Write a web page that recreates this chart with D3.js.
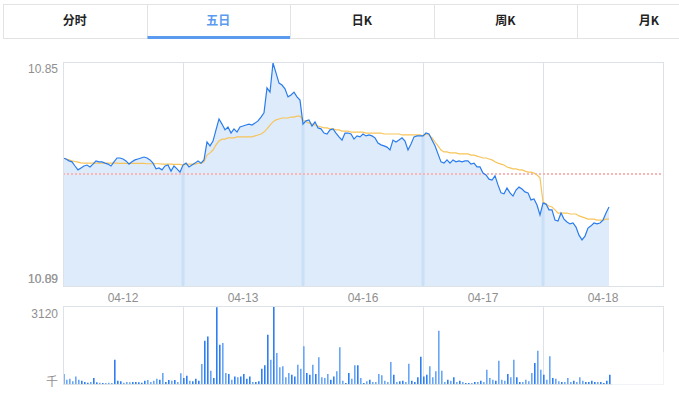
<!DOCTYPE html>
<html>
<head>
<meta charset="utf-8">
<script src="https://cdn.jsdelivr.net/npm/d3@7/dist/d3.min.js"></script>
<style>
  body { margin: 0; background: #fff; }
  svg { display: block; font-family: "Liberation Sans", Arial, sans-serif; }
</style>
</head>
<body>
<div id="root"></div>
<script>
// tabs and day labels
const tabLabels = ['分时', '五日', '日K', '周K', '月K'];
const activeTab = 1;
const days = ['04-12', '04-13', '04-16', '04-17', '04-18'];
const priceTopLabel = '10.85';
const priceBottomLabels = ['10.09', '10.89'];
const volTopLabel = '3120';
const volUnitLabel = '千';
const preClose = 10.50;
const priceRange = [10.15, 10.85];
const volMax = 3120;
const pointsPerDay = 40;

// price per sample (every 6 minutes)
const price0412 = [10.550,10.547,10.541,10.538,10.525,10.513,10.519,10.525,10.528,10.522,
  10.531,10.541,10.538,10.538,10.534,10.531,10.525,10.538,10.550,10.550,
  10.547,10.541,10.531,10.538,10.544,10.547,10.550,10.553,10.550,10.544,
  10.534,10.516,10.519,10.513,10.525,10.528,10.509,10.525,10.516,10.506];
const price0413 = [10.528,10.534,10.522,10.528,10.534,10.541,10.534,10.544,10.600,10.588,
  10.603,10.638,10.672,10.656,10.638,10.647,10.628,10.641,10.631,10.647,
  10.650,10.653,10.656,10.653,10.659,10.666,10.678,10.691,10.769,10.756,
  10.847,10.816,10.784,10.778,10.766,10.741,10.747,10.756,10.741,10.731];
const price0416 = [10.656,10.666,10.669,10.650,10.663,10.644,10.641,10.628,10.625,10.638,
  10.641,10.628,10.616,10.606,10.628,10.628,10.625,10.609,10.619,10.616,
  10.625,10.619,10.622,10.619,10.613,10.597,10.591,10.588,10.584,10.575,
  10.606,10.600,10.606,10.613,10.603,10.575,10.594,10.616,10.619,10.619];
const price0417 = [10.619,10.628,10.625,10.606,10.588,10.563,10.538,10.534,10.544,10.534,
  10.544,10.538,10.541,10.538,10.541,10.541,10.531,10.534,10.522,10.522,
  10.503,10.497,10.484,10.481,10.494,10.466,10.441,10.438,10.456,10.441,
  10.431,10.450,10.459,10.453,10.444,10.441,10.419,10.422,10.403,10.372];
const price0418 = [10.409,10.406,10.388,10.388,10.356,10.353,10.378,10.359,10.350,10.344,
  10.347,10.334,10.309,10.294,10.306,10.331,10.338,10.347,10.344,10.347,
  10.356,10.378,10.397];

// average price
const avg0412 = [10.550,10.547,10.544,10.541,10.539,10.537,10.535,10.534,10.534,10.534,
  10.534,10.534,10.534,10.534,10.534,10.534,10.534,10.534,10.534,10.533,
  10.533,10.533,10.533,10.533,10.533,10.533,10.533,10.533,10.532,10.532,
  10.532,10.532,10.532,10.531,10.531,10.531,10.531,10.530,10.530,10.530];
const avg0413 = [10.528,10.531,10.531,10.531,10.531,10.534,10.534,10.538,10.559,10.566,
  10.575,10.591,10.603,10.609,10.609,10.613,10.613,10.613,10.616,10.616,
  10.616,10.616,10.616,10.616,10.619,10.622,10.625,10.631,10.641,10.653,
  10.663,10.669,10.672,10.675,10.675,10.675,10.678,10.678,10.681,10.681];
const avg0416 = [10.669,10.663,10.659,10.656,10.653,10.650,10.647,10.644,10.644,10.641,
  10.641,10.638,10.638,10.634,10.634,10.634,10.631,10.631,10.631,10.631,
  10.631,10.628,10.628,10.628,10.628,10.628,10.628,10.625,10.625,10.625,
  10.625,10.625,10.625,10.622,10.622,10.622,10.622,10.622,10.622,10.622];
const avg0417 = [10.619,10.625,10.622,10.613,10.600,10.588,10.575,10.569,10.569,10.566,
  10.566,10.566,10.563,10.563,10.563,10.563,10.559,10.559,10.556,10.553,
  10.550,10.550,10.547,10.544,10.538,10.534,10.531,10.528,10.522,10.519,
  10.516,10.516,10.513,10.513,10.509,10.506,10.506,10.503,10.497,10.488];
const avg0418 = [10.413,10.406,10.400,10.397,10.388,10.378,10.378,10.378,10.378,10.375,
  10.375,10.375,10.369,10.366,10.363,10.359,10.359,10.359,10.356,10.356,
  10.356,10.359,10.359];

// volume (thousand shares)
const vol0412 = [400,170,210,110,300,170,130,80,50,80,
  240,70,50,40,40,50,40,970,130,110,
  50,80,70,80,80,70,50,130,160,80,
  130,210,170,440,80,160,130,160,80,430];
const vol0413 = [240,330,130,110,210,130,800,1730,1900,530,
  240,3070,1570,1640,440,400,170,300,270,300,
  400,210,300,80,80,110,610,750,1970,970,
  3120,1240,670,710,270,440,370,300,770,610];
const vol0416 = [1510,440,370,770,400,1070,270,240,400,170,
  300,510,1470,130,40,440,210,750,750,240,
  40,110,170,80,80,400,350,130,80,880,
  370,80,110,130,80,810,130,80,270,1090];
const vol0417 = [300,370,710,270,510,2130,530,80,170,130,
  270,80,130,80,40,40,40,80,80,130,
  80,570,240,170,130,930,170,130,400,270,
  970,270,80,80,170,110,440,840,1330,570];
const vol0418 = [370,170,1110,240,210,110,80,80,240,80,
  130,80,270,130,80,80,130,80,80,80,
  40,130,370];

const priceDays = [price0412, price0413, price0416, price0417, price0418];
const avgDays = [avg0412, avg0413, avg0416, avg0417, avg0418];
const volDays = [vol0412, vol0413, vol0416, vol0417, vol0418];

const flat = arrs => arrs.flatMap((arr, d) => arr.map((v, k) => ({ i: d * pointsPerDay + k, v })));
const priceData = flat(priceDays);
const avgData = flat(avgDays);
const volData = flat(volDays).map((d, j) => {
    const prev = j > 0 ? priceData[j - 1].v : priceData[0].v;
    return { i: d.i, v: d.v, up: priceData[j].v >= prev };
});

const W = 679, H = 395;
const plot = { left: 63, right: 663, top: 62, bottom: 286 };
const volPlot = { top: 306, bottom: 384 };

const svg = d3.select('#root').append('svg')
    .attr('width', W)
    .attr('height', H);

// tab bar
const tabW = 143.5, tabX0 = 3;
const tabs = svg.append('g');
tabs.append('line')
    .attr('x1', tabX0).attr('x2', W)
    .attr('y1', 4.5).attr('y2', 4.5)
    .attr('stroke', '#e3e3e3');
tabs.append('line')
    .attr('x1', tabX0).attr('x2', W)
    .attr('y1', 38.5).attr('y2', 38.5)
    .attr('stroke', '#e3e3e3');
tabs.selectAll('.sep')
    .data(d3.range(tabLabels.length))
    .enter().append('line')
    .attr('x1', i => Math.round(tabX0 + i * tabW) + 0.5)
    .attr('x2', i => Math.round(tabX0 + i * tabW) + 0.5)
    .attr('y1', 4).attr('y2', 38)
    .attr('stroke', '#e3e3e3');
tabs.append('rect')
    .attr('x', tabX0 + activeTab * tabW + 1)
    .attr('y', 36)
    .attr('width', tabW - 1)
    .attr('height', 3)
    .attr('fill', '#5b9bef');
tabs.selectAll('.tab')
    .data(tabLabels)
    .enter().append('text')
    .attr('x', (d, i) => tabX0 + i * tabW + tabW / 2)
    .attr('y', 25)
    .attr('text-anchor', 'middle')
    .style('font-family', '"Noto Sans CJK SC", sans-serif')
    .style('font-size', '12px')
    .style('font-weight', 'bold')
    .attr('fill', (d, i) => i === activeTab ? '#5b9bef' : '#222')
    .text(d => d);

// scales
const x = d3.scaleLinear().domain([0, days.length * pointsPerDay]).range([plot.left, plot.right]);
const y = d3.scaleLinear().domain(priceRange).range([plot.bottom, plot.top]);
const yv = d3.scaleLinear().domain([0, volMax]).range([volPlot.bottom, volPlot.top]);

const gridColor = '#dde2e8';
const bounds = d3.range(1, days.length).map(d => d * pointsPerDay);

// price panel grid
const g = svg.append('g');
g.selectAll('.vgrid')
    .data(bounds)
    .enter().append('line')
    .attr('x1', d => Math.round(x(d)) + 0.5)
    .attr('x2', d => Math.round(x(d)) + 0.5)
    .attr('y1', plot.top).attr('y2', plot.bottom)
    .attr('stroke', gridColor);

// area under price line
const area = d3.area()
    .x(d => x(d.i))
    .y0(plot.bottom)
    .y1(d => y(d.v));
svg.append('clipPath').attr('id', 'area-clip')
    .append('path').attr('d', area(priceData));
g.append('path')
    .attr('d', area(priceData))
    .attr('fill', '#deebfb');
g.selectAll('.band')
    .data(bounds)
    .enter().append('rect')
    .attr('x', d => x(d) - 1.5)
    .attr('y', plot.top)
    .attr('width', 3)
    .attr('height', plot.bottom - plot.top)
    .attr('fill', '#c9e0f6')
    .attr('clip-path', 'url(#area-clip)');

// pre-close dotted line
g.append('line')
    .attr('x1', plot.left).attr('x2', plot.right)
    .attr('y1', y(preClose)).attr('y2', y(preClose))
    .attr('stroke', '#f9b6b6')
    .attr('stroke-width', 2)
    .attr('stroke-dasharray', '2,2');

// average and price lines
const line = d3.line().x(d => x(d.i)).y(d => y(d.v));
g.append('path')
    .attr('d', line(avgData))
    .attr('fill', 'none')
    .attr('stroke', '#f7c45a')
    .attr('stroke-width', 1.2);
g.append('path')
    .attr('d', line(priceData))
    .attr('fill', 'none')
    .attr('stroke', '#2a7cec')
    .attr('stroke-width', 1.2);

// frame
g.append('rect')
    .attr('x', plot.left + 0.5).attr('y', plot.top + 0.5)
    .attr('width', plot.right - plot.left).attr('height', plot.bottom - plot.top)
    .attr('fill', 'none')
    .attr('stroke', gridColor);

// price labels
const labelStyle = sel => sel
    .style('font-size', '12px')
    .attr('fill', '#8f8f8f');
g.append('text')
    .attr('x', 58).attr('y', 73)
    .attr('text-anchor', 'end')
    .call(labelStyle)
    .text(priceTopLabel);
g.selectAll('.blabel')
    .data(priceBottomLabels)
    .enter().append('text')
    .attr('x', 58).attr('y', 283)
    .attr('text-anchor', 'end')
    .call(labelStyle)
    .attr('fill', '#999')
    .text(d => d);

// day labels
g.selectAll('.day')
    .data(days)
    .enter().append('text')
    .attr('x', (d, i) => x(i * pointsPerDay + pointsPerDay / 2))
    .attr('y', 302)
    .attr('text-anchor', 'middle')
    .call(labelStyle)
    .text(d => d);

// volume panel
const vg = svg.append('g');
vg.selectAll('.vgrid')
    .data(bounds)
    .enter().append('line')
    .attr('x1', d => Math.round(x(d)) + 0.5)
    .attr('x2', d => Math.round(x(d)) + 0.5)
    .attr('y1', volPlot.top).attr('y2', volPlot.bottom)
    .attr('stroke', gridColor);
vg.selectAll('.bar')
    .data(volData)
    .enter().append('rect')
    .attr('x', d => x(d.i))
    .attr('y', d => yv(d.v))
    .attr('width', 1.6)
    .attr('height', d => volPlot.bottom - yv(d.v))
    .attr('fill', d => d.up ? '#2f7ff0' : '#6aa6f6');
vg.append('rect')
    .attr('x', plot.left + 0.5).attr('y', volPlot.top + 0.5)
    .attr('width', plot.right - plot.left).attr('height', volPlot.bottom - volPlot.top)
    .attr('fill', 'none')
    .attr('stroke', gridColor);
vg.append('text')
    .attr('x', 58).attr('y', 318)
    .attr('text-anchor', 'end')
    .call(labelStyle)
    .text(volTopLabel);
vg.append('text')
    .attr('x', 58).attr('y', 386)
    .attr('text-anchor', 'end')
    .style('font-family', '"Noto Sans CJK SC", sans-serif')
    .call(labelStyle)
    .text(volUnitLabel);

// faded corner at bottom right
svg.append('rect')
    .attr('x', 612).attr('y', 352)
    .attr('width', 56).attr('height', 36)
    .attr('fill', '#fff')
    .attr('opacity', 0.6);
</script>
</body>
</html>
